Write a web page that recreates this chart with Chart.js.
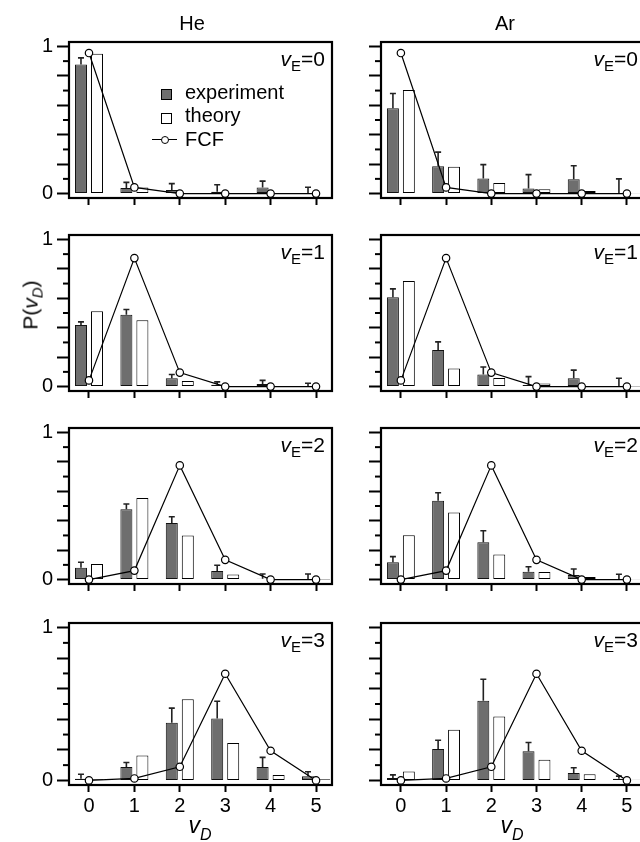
<!DOCTYPE html>
<html>
<head>
<meta charset="utf-8">
<script src="https://cdn.jsdelivr.net/npm/chart.js@4.4.1/dist/chart.umd.min.js"></script>
<style>
  html, body { margin: 0; padding: 0; background: #fff; overflow: hidden; width: 640px; height: 842px; }
  body { position: relative; font-family: "Liberation Sans", Arial, sans-serif; color: #000; }
  canvas { position: absolute; }
  .t { position: absolute; white-space: nowrap; line-height: 1; }
  .i { font-style: italic; }
  .box { position: absolute; border: 1px solid #000; box-sizing: border-box; }
</style>
</head>
<body>
<script>
// vibrational level of the product (x axis)
const vD = [0, 1, 2, 3, 4, 5];
const vE = [0, 1, 2, 3];

// He collision partner, one row per vE
const heExperiment = [
  [0.877, 0.038, 0.025, 0.013, 0.042, 0.003],
  [0.419, 0.488, 0.057, 0.013, 0.017, 0.003],
  [0.080, 0.478, 0.385, 0.059, 0.006, 0.003],
  [0.011, 0.087, 0.378, 0.405, 0.087, 0.028]
];
const heError = [
  [0.045, 0.038, 0.043, 0.047, 0.043, 0.040],
  [0.021, 0.036, 0.025, 0.019, 0.025, 0.020],
  [0.038, 0.036, 0.042, 0.038, 0.032, 0.035],
  [0.029, 0.030, 0.095, 0.113, 0.064, 0.029]
];
const heTheory = [
  [0.951, 0.042, 0.004, 0.002, 0.001, 0.000],
  [0.512, 0.450, 0.038, 0.004, 0.002, 0.000],
  [0.106, 0.554, 0.300, 0.034, 0.004, 0.001],
  [0.008, 0.163, 0.531, 0.244, 0.036, 0.008]
];

// Ar collision partner
const arExperiment = [
  [0.580, 0.186, 0.102, 0.034, 0.097, 0.003],
  [0.607, 0.249, 0.082, 0.011, 0.057, 0.003],
  [0.118, 0.535, 0.254, 0.053, 0.032, 0.003],
  [0.015, 0.206, 0.522, 0.191, 0.049, 0.011]
];
const arError = [
  [0.100, 0.096, 0.095, 0.095, 0.092, 0.097],
  [0.057, 0.055, 0.051, 0.057, 0.055, 0.054],
  [0.038, 0.055, 0.078, 0.034, 0.040, 0.033],
  [0.021, 0.057, 0.140, 0.057, 0.034, 0.017]
];
const arTheory = [
  [0.703, 0.182, 0.072, 0.030, 0.017, 0.002],
  [0.717, 0.123, 0.059, 0.021, 0.004, 0.001],
  [0.302, 0.455, 0.171, 0.051, 0.017, 0.002],
  [0.059, 0.331, 0.418, 0.136, 0.040, 0.004]
];

// Franck-Condon factors (same for both gases)
const fcf = [
  [0.955, 0.042, 0.000, 0.000, 0.000, 0.000],
  [0.042, 0.873, 0.095, 0.000, 0.000, 0.000],
  [0.000, 0.061, 0.776, 0.134, 0.000, 0.000],
  [0.000, 0.013, 0.089, 0.698, 0.194, 0.000]
];

const yMajor = [0, 0.2, 0.4, 0.6, 0.8, 1];
const yMinor = [0.1, 0.3, 0.5, 0.7, 0.9];

const FONT = '"Liberation Sans", Arial, sans-serif';
Chart.defaults.font.family = FONT;
Chart.defaults.color = '#000';

const rowTops = [38, 231, 424, 619];
const PLOT_H = 166;

// frame, minor ticks and error bars
const framePlugin = {
  id: 'frame',
  afterDatasetDraw(chart, args) {
    if (args.index !== 0) return;
    const ds = chart.data.datasets[0];
    const ys = chart.scales.y;
    const ctx = chart.ctx;
    ctx.save();
    ctx.strokeStyle = '#222';
    ctx.lineWidth = 1.6;
    args.meta.data.forEach((bar, i) => {
      const top = ys.getPixelForValue(ds.data[i].y + ds.errors[i]);
      ctx.beginPath();
      ctx.moveTo(bar.x, bar.y);
      ctx.lineTo(bar.x, top);
      ctx.moveTo(bar.x - 3, top);
      ctx.lineTo(bar.x + 3, top);
      ctx.stroke();
    });
    ctx.restore();
  },
  afterDraw(chart) {
    const a = chart.chartArea;
    const ctx = chart.ctx;
    const ys = chart.scales.y;
    ctx.save();
    ctx.strokeStyle = '#000';
    ctx.lineWidth = 2;
    yMinor.forEach(v => {
      const p = ys.getPixelForValue(v);
      ctx.beginPath();
      ctx.moveTo(a.left - 6, p);
      ctx.lineTo(a.left, p);
      ctx.stroke();
    });
    ctx.lineWidth = 2.2;
    ctx.strokeRect(a.left, a.top, a.right - a.left, a.bottom - a.top);
    ctx.restore();
  }
};

function makePanel(col, row, exp, err, theo, line) {
  const left = col === 0 ? 0 : 336;
  const width = col === 0 ? 340 : 312;
  const yW = col === 0 ? 69 : 45;
  const padR = col === 0 ? 8 : 5;
  const bottomRow = row === 3;
  const xH = bottomRow ? 40 : 10;
  const c = document.createElement('canvas');
  c.width = width;
  c.height = 12 + PLOT_H + xH;
  c.style.left = left + 'px';
  c.style.top = (rowTops[row] - 12) + 'px';
  document.body.appendChild(c);

  new Chart(c, {
    type: 'bar',
    data: {
      datasets: [
        {
          label: 'experiment',
          data: vD.map((x, i) => ({ x: x, y: exp[i] })),
          errors: err,
          backgroundColor: '#6e6e6e',
          borderColor: '#111',
          borderWidth: 1,
          borderSkipped: false,
          categoryPercentage: 0.705,
          barPercentage: 0.75,
          order: 1
        },
        {
          label: 'theory',
          data: vD.map((x, i) => ({ x: x, y: theo[i] })),
          backgroundColor: '#fff',
          borderColor: '#000',
          borderWidth: 1,
          borderSkipped: false,
          categoryPercentage: 0.705,
          barPercentage: 0.75,
          order: 2
        },
        {
          type: 'line',
          label: 'FCF',
          data: vD.map((x, i) => ({ x: x, y: line[i] })),
          borderColor: '#000',
          borderWidth: 1.2,
          pointRadius: 3.7,
          pointBackgroundColor: '#fff',
          pointBorderColor: '#000',
          pointBorderWidth: 1.2,
          tension: 0,
          order: 0
        }
      ]
    },
    options: {
      responsive: false,
      animation: false,
      devicePixelRatio: 1,
      layout: { padding: { top: 12, right: padR, left: 0, bottom: 0 } },
      plugins: { legend: { display: false }, tooltip: { enabled: false } },
      scales: {
        x: {
          type: 'linear',
          min: -0.44,
          max: 5.352,
          offset: false,
          afterBuildTicks: s => { s.ticks = vD.map(v => ({ value: v })); },
          afterFit: s => { s.height = xH; },
          border: { display: false },
          grid: { drawOnChartArea: false, offset: false, tickLength: 7, tickWidth: 2, tickColor: '#000' },
          ticks: {
            padding: 2,
            color: '#000',
            font: { size: 20 },
            autoSkip: false,
            maxRotation: 0,
            callback: v => bottomRow ? String(v) : ''
          }
        },
        y: {
          min: -0.03,
          max: 1.03,
          afterBuildTicks: s => { s.ticks = yMajor.map(v => ({ value: v })); },
          afterFit: s => { s.width = yW; },
          border: { display: false },
          grid: { drawOnChartArea: false, tickLength: 12, tickWidth: 2, tickColor: '#000' },
          ticks: {
            padding: 4,
            color: '#000',
            font: { size: 20 },
            callback: v => (col === 0 && (v === 0 || v === 1)) ? String(v) : ''
          }
        }
      }
    },
    plugins: [framePlugin]
  });
}

vE.forEach(r => {
  makePanel(0, r, heExperiment[r], heError[r], heTheory[r], fcf[r]);
  makePanel(1, r, arExperiment[r], arError[r], arTheory[r], fcf[r]);
});

// text helpers (real text positioned over the canvases)
function txt(html, x, baseline, size, align) {
  const d = document.createElement('div');
  d.className = 't';
  d.style.fontSize = size + 'px';
  d.innerHTML = html;
  d.style.top = (baseline - 0.8465 * size) + 'px';
  d.style.left = x + 'px';
  if (align === 'center') d.style.transform = 'translateX(-50%)';
  if (align === 'right') d.style.transform = 'translateX(-100%)';
  document.body.appendChild(d);
  return d;
}
function block(cls, l, t, w, h, bg) {
  const d = document.createElement('div');
  d.className = cls;
  d.style.left = l + 'px'; d.style.top = t + 'px';
  d.style.width = w + 'px'; d.style.height = h + 'px';
  if (bg) d.style.background = bg;
  document.body.appendChild(d);
  return d;
}

txt('He', 192, 30, 20, 'center');
txt('Ar', 505, 30, 20, 'center');

vE.forEach(r => {
  const lab = '<span class="i">v</span><span style="font-size:15px;position:relative;top:5px">E</span>=' + vE[r];
  txt(lab, 325, rowTops[r] + 28, 21, 'right');
  txt(lab, 638, rowTops[r] + 28, 21, 'right');
});

// legend
block('box', 161, 89, 11, 11, '#6e6e6e');
txt('experiment', 185, 99, 20);
block('box', 161, 113, 11, 11, '#fff');
txt('theory', 185, 122, 20);
block('box', 152, 139, 25, 1, '#000').style.border = 'none';
const circ = block('box', 160.5, 135.5, 8, 8, '#fff');
circ.style.borderRadius = '50%';
txt('FCF', 185, 146, 20);

// axis titles
const yt = txt('P(<span class="i">v</span><span class="i" style="font-size:15px;position:relative;top:5px">D</span>)', 0, 0, 21);
yt.style.top = '305px';
yt.style.left = '30px';
yt.style.transform = 'translate(-50%, -50%) rotate(-90deg)';

const xl = '<span class="i">v</span><span class="i" style="font-size:16px;position:relative;top:7px">D</span>';
txt(xl, 200, 833, 23, 'center');
txt(xl, 512, 833, 23, 'center');
</script>
</body>
</html>
